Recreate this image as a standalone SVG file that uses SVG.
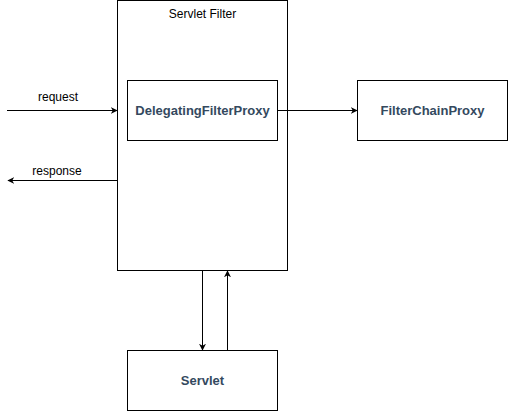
<svg xmlns="http://www.w3.org/2000/svg" width="508" height="411" viewBox="0 0 508 411">
<style>
.box{fill:#fff;stroke:#000;stroke-width:1}
.lbl{font-family:"Liberation Sans",Arial,sans-serif;font-size:13px;font-weight:bold;fill:#34495e;text-anchor:middle}
.txt{font-family:"Liberation Sans",Arial,sans-serif;font-size:12px;fill:#000;text-anchor:middle}
.edge{fill:none;stroke:#000;stroke-width:1}
</style>
<defs>
<marker id="arr" viewBox="0 0 10 10" refX="9" refY="5" markerWidth="7" markerHeight="7" markerUnits="userSpaceOnUse" orient="auto">
<path d="M0,0 L10,5 L0,10 L3,5 Z" fill="#000"/>
</marker>
</defs>
<rect width="508" height="411" fill="#fff"/>
<g id="servlet-filter">
<rect class="box" x="117.5" y="0.5" width="170" height="270"/>
<text class="txt" x="202.5" y="18">Servlet Filter</text>
</g>
<g id="delegating">
<rect class="box" x="127.5" y="80.5" width="150" height="60"/>
<text class="lbl" x="202.5" y="115">DelegatingFilterProxy</text>
</g>
<g id="filterchain">
<rect class="box" x="357.5" y="80.5" width="150" height="60"/>
<text class="lbl" x="432.5" y="115">FilterChainProxy</text>
</g>
<g id="servlet">
<rect class="box" x="127.5" y="350.5" width="150" height="60"/>
<text class="lbl" x="202.5" y="385">Servlet</text>
</g>
<g id="connectors">
<line class="edge" x1="7" y1="110.5" x2="117" y2="110.5" marker-end="url(#arr)"/>
<text class="txt" x="58" y="101">request</text>
<line class="edge" x1="117" y1="180.5" x2="8" y2="180.5" marker-end="url(#arr)"/>
<text class="txt" x="57" y="175">response</text>
<line class="edge" x1="277.5" y1="110.5" x2="357" y2="110.5" marker-end="url(#arr)"/>
<line class="edge" x1="202.5" y1="271" x2="202.5" y2="350" marker-end="url(#arr)"/>
<line class="edge" x1="227.5" y1="350" x2="227.5" y2="271" marker-end="url(#arr)"/>
</g>
</svg>
